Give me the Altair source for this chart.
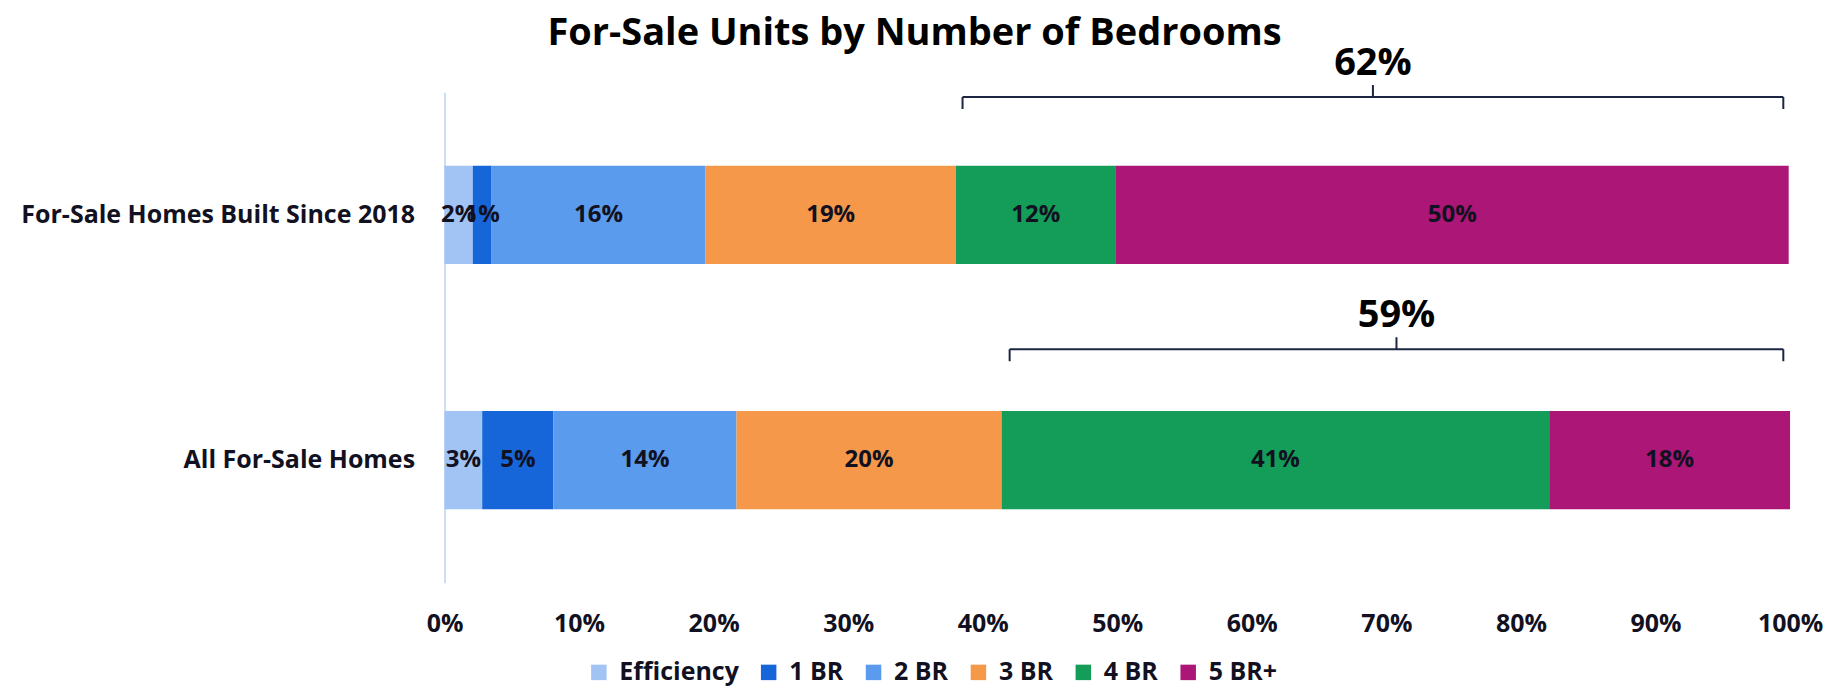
import altair as alt
import pandas as pd

# ---- data ----
categories = ["For-Sale Homes Built Since 2018", "All For-Sale Homes"]
bedrooms = ["Efficiency", "1 BR", "2 BR", "3 BR", "4 BR", "5 BR+"]
colors = ["#a2c4f4", "#1666d9", "#5b9bee", "#f5984a", "#149d59", "#ab1677"]
shares_new = [2.1, 1.4, 15.9, 18.6, 11.9, 50.0]
shares_all = [2.8, 5.3, 13.6, 19.7, 40.7, 17.9]
labels_new = ["2%", "1%", "16%", "19%", "12%", "50%"]
labels_all = ["3%", "5%", "14%", "20%", "41%", "18%"]
bracket_start = [38.5, 42.0]
bracket_end = [99.5, 99.5]
bracket_labels = ["62%", "59%"]
x_ticks = [0, 10, 20, 30, 40, 50, 60, 70, 80, 90, 100]

rows = []
for cat, shares, labels in zip(categories, [shares_new, shares_all], [labels_new, labels_all]):
    cum = 0.0
    for i, (b, s, l) in enumerate(zip(bedrooms, shares, labels)):
        rows.append(dict(cat=cat, bedroom=b, order=i, start=cum, end=cum + s,
                         mid=cum + s / 2, label=l))
        cum += s
df = pd.DataFrame(rows)

bdf = pd.DataFrame(dict(cat=categories, start=bracket_start, end=bracket_end,
                        label=bracket_labels))

FONT = "Open Sans"
TXT = "#111122"
BRACKET = "#1c2541"

x_scale = alt.Scale(domain=[0, 100], nice=False, zero=True)
y_scale = alt.Scale(domain=categories, paddingInner=0.6, paddingOuter=0.3)


def ycat():
    return alt.Y("cat:N", sort=categories, scale=y_scale, title=None)


bars = alt.Chart(df).mark_bar().encode(
    x=alt.X("start:Q", scale=x_scale, title=None,
            axis=alt.Axis(values=x_ticks, labelExpr="datum.value + '%'")),
    x2="end:Q",
    y=ycat(),
    color=alt.Color(
        "bedroom:N",
        scale=alt.Scale(domain=bedrooms, range=colors),
        legend=alt.Legend(
            title=None, orient="none", legendX=142, legendY=568,
            direction="horizontal", symbolType="square", symbolSize=240,
            symbolStrokeWidth=0, symbolOpacity=1, labelFontSize=25,
            labelFont=FONT, labelFontWeight="bold", labelColor=TXT,
            labelOffset=8, columnPadding=17, padding=0,
        ),
    ),
    order=alt.Order("order:Q"),
)

seg_text = alt.Chart(df).mark_text(
    font=FONT, fontSize=24, fontWeight="bold", color=TXT, baseline="middle"
).encode(
    x=alt.X("mid:Q", title=None),
    y=ycat(),
    text="label:N",
)

layers = [bars, seg_text]

# bracket vertical placement relative to each bar's band centre (pixels)
line_offsets = [-118, -111]
for i, off in enumerate(line_offsets):
    d = bdf.iloc[[i]]
    line = alt.Chart(d).mark_rule(color=BRACKET, strokeWidth=2, yOffset=off).encode(
        x=alt.X("start:Q", title=None), x2="end:Q", y=ycat())
    ends = alt.Chart(d).transform_fold(["start", "end"], as_=["k", "pos"]).mark_tick(
        orient="vertical", size=12, thickness=2, color=BRACKET, opacity=1,
        yOffset=off + 6).encode(x=alt.X("pos:Q", title=None), y=ycat())
    mid = alt.Chart(d).transform_calculate(m="(datum.start + datum.end) / 2").mark_tick(
        orient="vertical", size=12, thickness=2, color=BRACKET, opacity=1,
        yOffset=off - 6).encode(x=alt.X("m:Q", title=None), y=ycat())
    lab = alt.Chart(d).transform_calculate(m="(datum.start + datum.end) / 2").mark_text(
        font=FONT, fontSize=38, fontWeight="bold", color="#000000",
        baseline="middle", yOffset=off - 33).encode(
        x=alt.X("m:Q", title=None), y=ycat(), text="label:N")
    layers += [line, ends, mid, lab]

chart = alt.layer(*layers).properties(
    width=1347,
    height=491,
    padding={"left": 437, "top": 84, "right": 33, "bottom": 105},
    autosize=alt.AutoSizeParams(type="none"),
    background="white",
    title=alt.Title(
        "For-Sale Units by Number of Bedrooms",
        font=FONT, fontSize=38, fontWeight="bold", color="#000000",
        anchor="middle", frame="group", dx=-203, offset=0, dy=8,
    ),
).configure_view(stroke=None).configure_axisX(
    domain=False, ticks=False, grid=False, labelFont=FONT, labelFontSize=25,
    labelFontWeight="bold", labelColor=TXT, labelPadding=29, labelFlush=False,
    labelOverlap=False,
).configure_axisY(
    domain=True, domainColor="#b9d3f3", domainWidth=1.5, ticks=False, grid=False,
    labelFont=FONT, labelFontSize=25, labelFontWeight="bold", labelColor=TXT,
    labelPadding=30, labelLimit=700,
)

chart.save("out.html", embed_options={"renderer": "svg", "actions": False})
